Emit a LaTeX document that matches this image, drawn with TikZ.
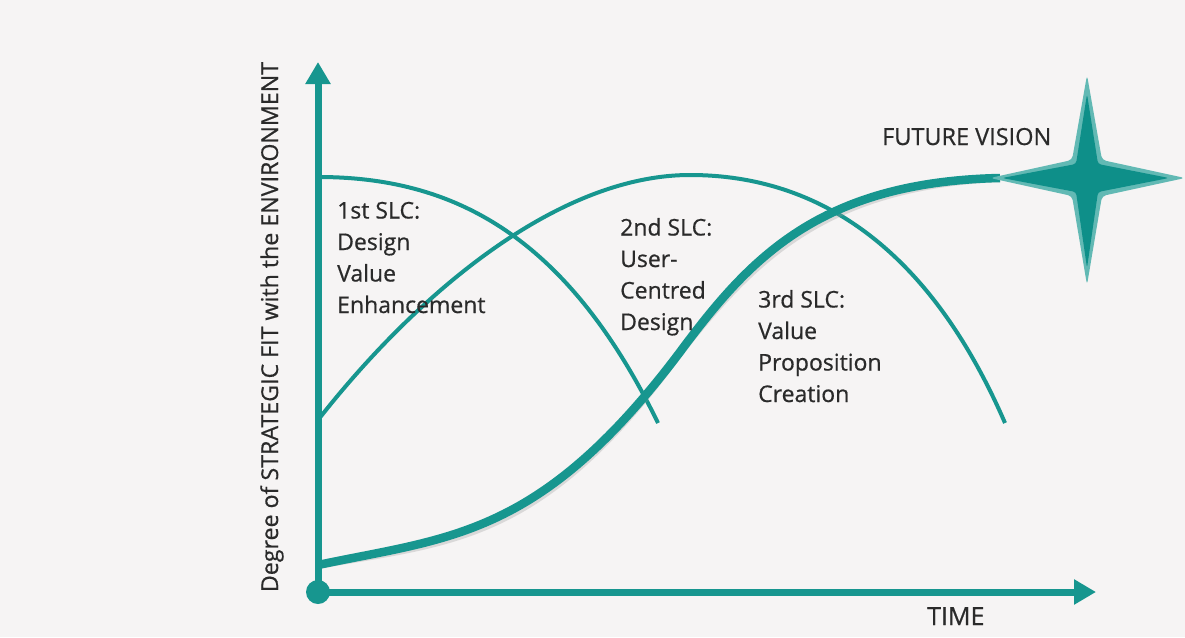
\documentclass[tikz,border=0pt]{standalone}
\usepackage{fontspec}
\setmainfont{Open Sans}[FakeBold=0.6]
\usetikzlibrary{arrows.meta}
\definecolor{teal1}{HTML}{17968F}
\definecolor{starlight}{HTML}{62B9B4}
\definecolor{stardark}{HTML}{0E8F89}
\definecolor{bgc}{HTML}{F6F4F4}
\definecolor{txt}{HTML}{2A2A2A}
\begin{document}
\begin{tikzpicture}[x=1pt,y=-1pt,
  axis/.style={teal1,line width=7pt,-{Triangle[length=22pt,width=24pt]}},
  thin curve/.style={teal1,line width=4pt},
  thick curve/.style={teal1,line width=8.5pt},
  lbl/.style={txt,font=\fontsize{23}{31.5}\selectfont,align=left,inner sep=0pt,anchor=base west},
  axlbl/.style={txt,inner sep=0pt}]
\fill[bgc] (0,0) rectangle (1185,637);
\useasboundingbox (0,0) rectangle (1185,637);
% coordinates
\coordinate (o) at (318,592);
\coordinate (ytip) at (318,62);
\coordinate (xtip) at (1096,592);
\coordinate (s1a) at (318,177);
\coordinate (s1b) at (658,423);
\coordinate (s2a) at (318,420);
\coordinate (s2p) at (690,175);
\coordinate (s2b) at (1005,423);
\coordinate (s3a) at (318,565);
\coordinate (s3m) at (680,352);
\coordinate (s3b) at (1000,178);
\coordinate (sc) at (1087,178);
% curves
\draw[thin curve] (s1a) .. controls (450,177) and (565,232) .. (s1b);
\draw[thin curve] (s2a) .. controls (420,290) and (560,175) .. (s2p)
  .. controls (820,175) and (930,250) .. (s2b);
\draw[black!40,opacity=0.3,line width=8pt,shift={(2,4)}] (s3a) .. controls (450,537) and (540,538) .. (s3m)
  .. controls (750,257.5) and (820,182) .. (s3b);
\draw[thick curve] (s3a) .. controls (450,537) and (540,538) .. (s3m)
  .. controls (750,257.5) and (820,182) .. (s3b);
% axes
\draw[axis] (o) -- (ytip);
\draw[axis] (o) -- (xtip);
\fill[teal1] (o) circle (12);
% star
\begin{scope}[shift={(sc)}]
\fill[starlight,rounded corners=4pt] (0,-103) -- (15,-18) -- (98,0) -- (15,18) -- (0,107)
  -- (-15,18) -- (-97,0) -- (-15,-18) -- cycle;
\fill[stardark,rounded corners=3pt] (0,-84) -- (11,-14) -- (82,0) -- (11,14) -- (0,90)
  -- (-11,14) -- (-85,0) -- (-11,-14) -- cycle;
\end{scope}
% labels
\node[lbl] (l1) at (337,313) {1st SLC:\\Design\\Value\\Enhancement};
\node[lbl] (l2) at (620,330) {2nd SLC:\\User-\\Centred\\Design};
\node[lbl] (l3) at (758,402) {3rd SLC:\\Value\\Proposition\\Creation};
\node[axlbl,font=\fontsize{23.5}{28}\selectfont,anchor=base west] (fv) at (882,145) {FUTURE VISION};
\node[axlbl,font=\fontsize{25}{30}\selectfont,anchor=base west] (tm) at (927,625) {TIME};
\node[axlbl,font=\fontsize{23.2}{28}\selectfont,anchor=base,rotate=90] (yl) at (278,327) {Degree of STRATEGIC FIT with the ENVIRONMENT};
\end{tikzpicture}
\end{document}
